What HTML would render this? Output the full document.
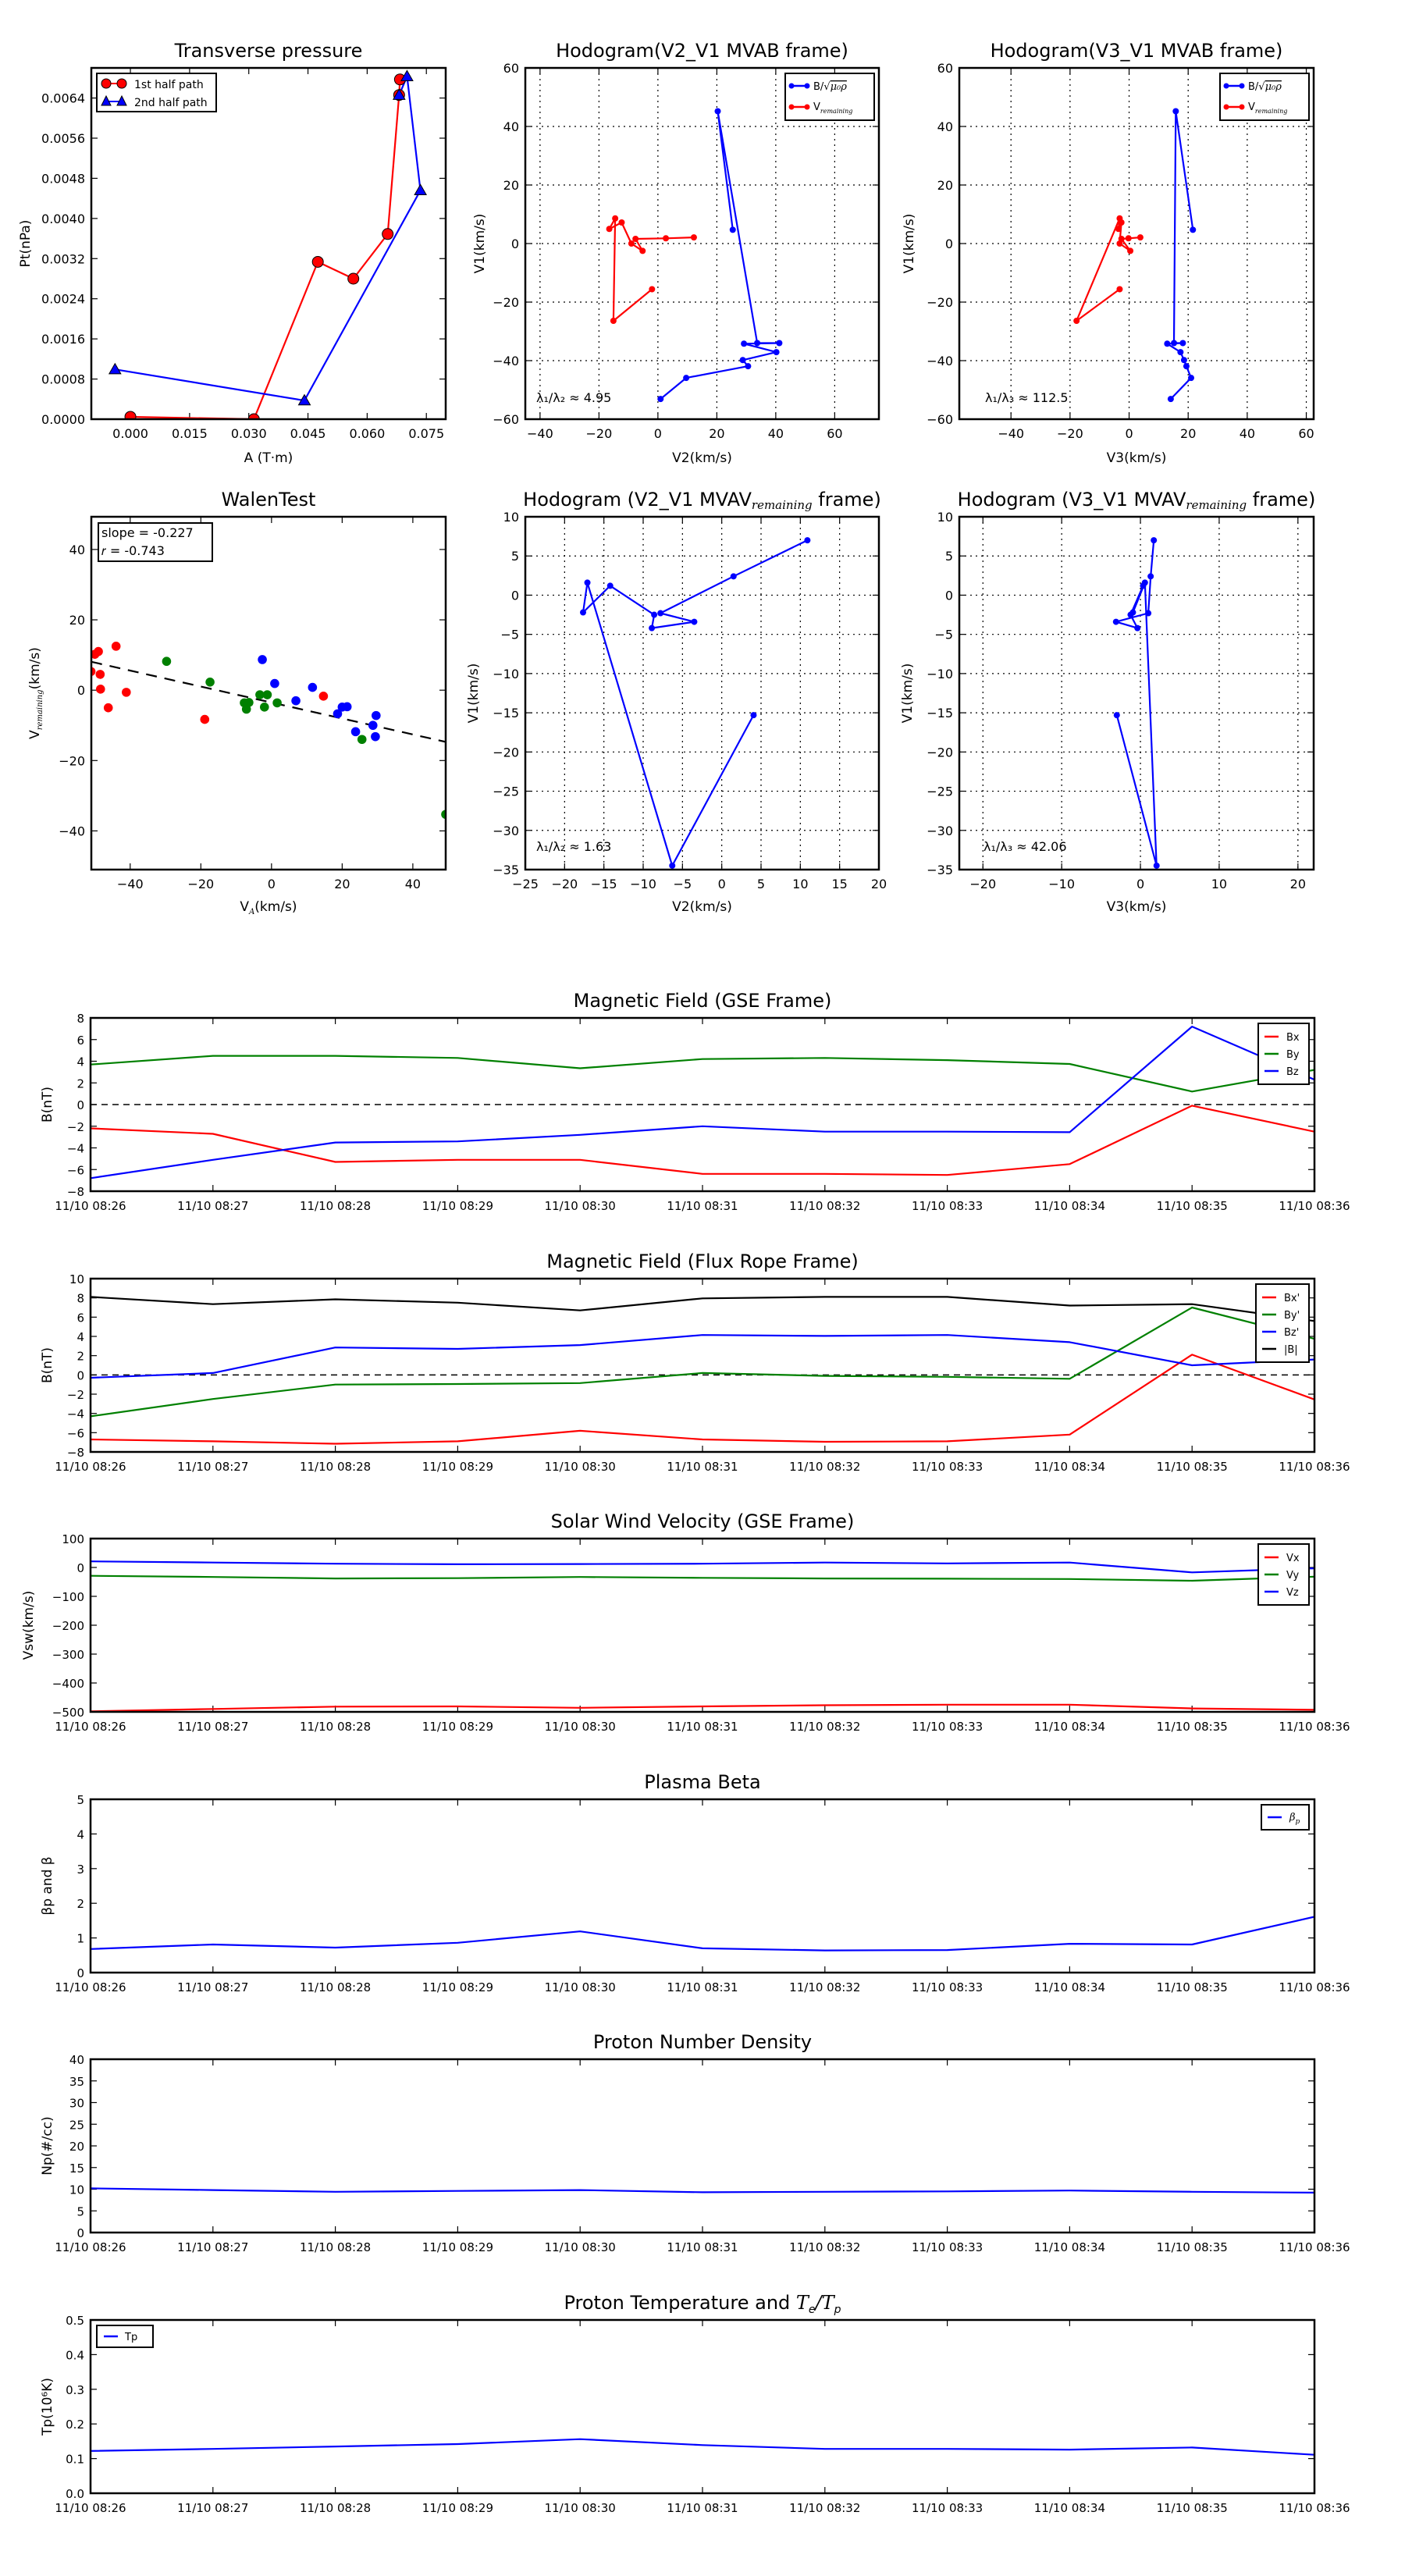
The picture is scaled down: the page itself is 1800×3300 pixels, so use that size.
<!DOCTYPE html>
<html><head><meta charset="utf-8"><title>Flux rope analysis</title>
<style>
html,body{margin:0;padding:0;background:#fff;}
svg{display:block;font-family:"DejaVu Sans","Liberation Sans",sans-serif;}
</style></head>
<body>
<svg id="fig" xmlns="http://www.w3.org/2000/svg" width="1800" height="3300" viewBox="0 0 1800 3300">
<rect x="0" y="0" width="1800" height="3300" fill="#fff"/>
</svg>
<script>
// ---------- DATA ----------
// Transverse pressure
const tpA1 = [0.0, 0.0313, 0.0475, 0.0565, 0.0652, 0.0681, 0.0683];
const tpP1 = [0.000047, 0.0, 0.003135, 0.0028, 0.00369, 0.00646, 0.00677];
const tpA2 = [0.0681, 0.0701, 0.0735, 0.0441, -0.0039];
const tpP2 = [0.00646, 0.00683, 0.00456, 0.000372, 0.000992];
// Hodogram MVAB
const hbV1 = [-53.1, -45.9, -41.9, -39.8, -37.1, -34.2, -34.0, -34.0, 45.2, 4.7];
const hbV2 = [0.9, 9.6, 30.6, 28.8, 40.2, 29.2, 41.2, 33.7, 20.3, 25.4];
const hbV3 = [14.1, 21.0, 19.4, 18.6, 17.4, 12.9, 18.2, 15.2, 15.8, 21.6];
const hvV1 = [-15.6, -26.4, 8.6, 5.0, 7.2, 0.0, -2.5, 1.6, 1.8, 2.1];
const hvV2 = [-2.0, -15.1, -14.5, -16.5, -12.3, -9.0, -5.2, -7.6, 2.7, 12.2];
const hvV3 = [-3.2, -17.8, -3.2, -3.6, -2.6, -3.2, 0.4, -2.6, -0.2, 3.8];
// Hodogram MVAV remaining
const hrV1 = [-15.3, -34.5, 1.6, -2.2, 1.2, -2.5, -4.2, -3.4, -2.3, 2.4, 7.0];
const hrV2 = [4.05, -6.3, -17.1, -17.65, -14.2, -8.6, -8.9, -3.5, -7.8, 1.5, 10.9];
const hrV3 = [-3.0, 2.05, 0.57, -0.95, 0.34, -1.25, -0.38, -3.1, 1.0, 1.3, 1.7];
// Walen test
const wRedX = [-51.1, -50, -49, -48.5, -48.4, -46.2, -44, -41.1, -18.9, 14.7];
const wRedY = [5.3, 10.2, 11, 4.5, 0.3, -5, 12.5, -0.6, -8.3, -1.7];
const wGrnX = [-29.7, -17.4, -7.7, -7.1, -6.4, -3.3, -2, -1.2, 1.6, 25.6, 49.3];
const wGrnY = [8.2, 2.3, -3.6, -5.4, -3.5, -1.3, -4.8, -1.3, -3.6, -14, -35.3];
const wBluX = [-2.6, 0.9, 6.9, 11.6, 18.7, 20, 21.4, 23.8, 28.7, 29.4, 29.6];
const wBluY = [8.7, 1.9, -3.0, 0.8, -6.7, -4.8, -4.7, -11.8, -10, -13.2, -7.2];
const wSlope = [-0.227];
const wIntercept = [-3.5];
// Time series
const times = ['11/10 08:26','11/10 08:27','11/10 08:28','11/10 08:29','11/10 08:30','11/10 08:31','11/10 08:32','11/10 08:33','11/10 08:34','11/10 08:35','11/10 08:36'];
const bx = [-2.2, -2.7, -5.3, -5.1, -5.1, -6.4, -6.4, -6.5, -5.5, -0.1, -2.5];
const by = [3.7, 4.5, 4.5, 4.3, 3.35, 4.2, 4.3, 4.1, 3.75, 1.2, 3.2];
const bz = [-6.8, -5.1, -3.5, -3.4, -2.8, -2.0, -2.5, -2.5, -2.55, 7.2, 2.3];
const bxp = [-6.7, -6.9, -7.15, -6.9, -5.8, -6.7, -6.95, -6.9, -6.2, 2.1, -2.55];
const byp = [-4.3, -2.5, -1.0, -0.95, -0.85, 0.2, -0.1, -0.2, -0.4, 7.0, 3.75];
const bzp = [-0.3, 0.2, 2.85, 2.7, 3.1, 4.15, 4.05, 4.15, 3.4, 1.0, 1.6];
const bmag = [8.1, 7.35, 7.85, 7.5, 6.7, 7.95, 8.1, 8.1, 7.2, 7.35, 5.6];
const vx = [-498, -490, -482, -481, -486, -481, -477, -475, -475, -488, -493];
const vy = [-29, -33, -38, -37, -33, -36, -38, -39, -40, -46, -32];
const vz = [21, 17, 13, 11, 12, 13, 17, 14, 17, -17, -3];
const betaP = [0.68, 0.81, 0.72, 0.86, 1.19, 0.70, 0.64, 0.65, 0.83, 0.81, 1.61];
const np = [10.2, 9.8, 9.4, 9.6, 9.8, 9.3, 9.4, 9.5, 9.7, 9.4, 9.2];
const tp = [0.122, 0.128, 0.135, 0.142, 0.156, 0.139, 0.128, 0.128, 0.126, 0.132, 0.111];

// ---------- HELPERS ----------
const NS = 'http://www.w3.org/2000/svg';
const svg = document.getElementById('fig');
let clipId = 0;
function mk(tag, attrs, name, parent) {
  const el = document.createElementNS(NS, tag);
  for (const k in attrs) el.setAttribute(k, attrs[k]);
  
  
  (parent || svg).appendChild(el);
  return el;
}
function txt(x, y, s, opts, name, parent) {
  const t = mk('text', Object.assign({x: x, y: y, 'font-size': 16, fill: '#000'}, opts || {}), name, parent);
  t.textContent = s;
  return t;
}
function fmtMinus(s) { return String(s).replace('-', '\u2212'); }

function makeAxes(c) {
  const sx = v => c.x0 + (v - c.xmin) / (c.xmax - c.xmin) * (c.x1 - c.x0);
  const sy = v => c.y1 - (v - c.ymin) / (c.ymax - c.ymin) * (c.y1 - c.y0);
  const g = mk('g', {}, c.name);
  const id = 'clip' + (clipId++);
  const cp = mk('clipPath', {id: id}, c.name + '-clip', g);
  mk('rect', {x: c.x0, y: c.y0, width: c.x1 - c.x0, height: c.y1 - c.y0}, c.name + '-clip-rect', cp);
  const fs = c.fs || 16;
  if (c.grid) {
    c.xticks.forEach(v => { if (v > c.xmin && v < c.xmax) mk('line', {x1: sx(v), x2: sx(v), y1: c.y0, y2: c.y1, stroke: '#000', 'stroke-width': 1.2, 'stroke-dasharray': '2,5'}, 'x-gridline', g); });
    c.yticks.forEach(v => { if (v > c.ymin && v < c.ymax) mk('line', {x1: c.x0, x2: c.x1, y1: sy(v), y2: sy(v), stroke: '#000', 'stroke-width': 1.2, 'stroke-dasharray': '2,5'}, 'y-gridline', g); });
  }
  c.xticks.forEach((v, i) => {
    const X = sx(v);
    mk('line', {x1: X, x2: X, y1: c.y1, y2: c.y1 - 8, stroke: '#000', 'stroke-width': 1.2}, 'x-tick', g);
    mk('line', {x1: X, x2: X, y1: c.y0, y2: c.y0 + 8, stroke: '#000', 'stroke-width': 1.2}, 'x-tick', g);
    txt(X, c.y1 + (c.xlOff || 24), c.xlabels ? c.xlabels[i] : fmtMinus(v), {'text-anchor': 'middle', 'font-size': fs}, 'x-tick-label', g);
  });
  c.yticks.forEach((v, i) => {
    const Y = sy(v);
    mk('line', {x1: c.x0, x2: c.x0 + 8, y1: Y, y2: Y, stroke: '#000', 'stroke-width': 1.2}, 'y-tick', g);
    mk('line', {x1: c.x1, x2: c.x1 - 8, y1: Y, y2: Y, stroke: '#000', 'stroke-width': 1.2}, 'y-tick', g);
    txt(c.x0 - 8, Y + 6, c.ylabels ? c.ylabels[i] : fmtMinus(v), {'text-anchor': 'end', 'font-size': fs}, 'y-tick-label', g);
  });
  const data = mk('g', {'clip-path': 'url(#' + id + ')'}, c.name + '-data', g);
  return {sx: sx, sy: sy, g: g, data: data, c: c};
}
function frame(ax) {
  const c = ax.c;
  mk('rect', {x: c.x0, y: c.y0, width: c.x1 - c.x0, height: c.y1 - c.y0, fill: 'none', stroke: '#000', 'stroke-width': 2.5}, c.name + '-frame', ax.g);
}
function line(ax, xs, ys, color, name, w) {
  const pts = xs.map((x, i) => ax.sx(x).toFixed(1) + ',' + ax.sy(ys[i]).toFixed(1)).join(' ');
  return mk('polyline', {points: pts, fill: 'none', stroke: color, 'stroke-width': w || 2.2, 'stroke-linejoin': 'round'}, name, ax.data);
}
function dots(ax, xs, ys, color, r, name, stroke) {
  xs.forEach((x, i) => {
    mk('circle', {cx: ax.sx(x), cy: ax.sy(ys[i]), r: r, fill: color, stroke: stroke || 'none', 'stroke-width': 1}, name, ax.data);
  });
}
function tris(ax, xs, ys, color, s, name) {
  xs.forEach((x, i) => {
    const X = ax.sx(x), Y = ax.sy(ys[i]);
    mk('polygon', {points: (X) + ',' + (Y - s) + ' ' + (X - s) + ',' + (Y + s * 0.75) + ' ' + (X + s) + ',' + (Y + s * 0.75), fill: color, stroke: '#000', 'stroke-width': 1}, name, ax.data);
  });
}
function title(ax, s, name) {
  const c = ax.c;
  return txt((c.x0 + c.x1) / 2, c.y0 - 14, s, {'text-anchor': 'middle', 'font-size': 24}, name, ax.g);
}
function xlabel(ax, s, y, name) {
  const c = ax.c;
  return txt((c.x0 + c.x1) / 2, y, s, {'text-anchor': 'middle', 'font-size': 17}, name, ax.g);
}
function ylabel(ax, s, x, name) {
  const c = ax.c; const cy = (c.y0 + c.y1) / 2;
  return txt(x, cy, s, {'text-anchor': 'middle', 'font-size': 17, transform: 'rotate(-90 ' + x + ' ' + cy + ')'}, name, ax.g);
}
function legendBox(x, y, w, h, name, parent) {
  return mk('rect', {x: x, y: y, width: w, height: h, fill: '#fff', stroke: '#000', 'stroke-width': 2}, name, parent);
}
function subTxt(t, main, sub, subSize) {
  const a = document.createElementNS(NS, 'tspan'); a.textContent = main; t.appendChild(a);
  const b = document.createElementNS(NS, 'tspan');
  b.setAttribute('font-size', subSize || 10); b.setAttribute('font-style', 'italic');
  b.setAttribute('font-family', 'DejaVu Serif, serif'); b.setAttribute('dy', '4');
  b.textContent = sub; t.appendChild(b);
  return t;
}

// ---------- ROW 1 ----------
const R1T = 87, R1B = 537;
const ax1 = makeAxes({name: 'transverse-pressure-plot', x0: 117, x1: 571, y0: R1T, y1: R1B, xmin: -0.0099, xmax: 0.0799, ymin: 0, ymax: 0.0070,
  xticks: [0, 0.015, 0.03, 0.045, 0.06, 0.075], xlabels: ['0.000','0.015','0.030','0.045','0.060','0.075'],
  yticks: [0, 0.0008, 0.0016, 0.0024, 0.0032, 0.004, 0.0048, 0.0056, 0.0064], ylabels: ['0.0000','0.0008','0.0016','0.0024','0.0032','0.0040','0.0048','0.0056','0.0064']});
line(ax1, tpA1, tpP1, '#f00', 'first-half-path-line');
line(ax1, tpA2, tpP2, '#00f', 'second-half-path-line');
dots(ax1, tpA1, tpP1, '#f00', 7, 'first-half-marker', '#000');
tris(ax1, tpA2, tpP2, '#00f', 7.5, 'second-half-marker');
frame(ax1);
title(ax1, 'Transverse pressure', 'transverse-pressure-title');
xlabel(ax1, 'A (T\u00b7m)', 592, 'x-axis-title');
ylabel(ax1, 'Pt(nPa)', 38, 'y-axis-title');
(function () {
  const g = mk('g', {}, 'legend', ax1.g);
  legendBox(124, 94, 153, 49, 'legend-box', g);
  mk('line', {x1: 136, x2: 156, y1: 107, y2: 107, stroke: '#f00', 'stroke-width': 2}, 'legend-line-1st', g);
  mk('circle', {cx: 136, cy: 107, r: 6, fill: '#f00', stroke: '#000'}, 'legend-marker-1st', g);
  mk('circle', {cx: 156, cy: 107, r: 6, fill: '#f00', stroke: '#000'}, 'legend-marker-1st', g);
  txt(172, 113, '1st half path', {'font-size': 14}, 'legend-entry-1st', g);
  mk('line', {x1: 136, x2: 156, y1: 130, y2: 130, stroke: '#00f', 'stroke-width': 2}, 'legend-line-2nd', g);
  mk('polygon', {points: '136,123 130,135 142,135', fill: '#00f', stroke: '#000'}, 'legend-marker-2nd', g);
  mk('polygon', {points: '156,123 150,135 162,135', fill: '#00f', stroke: '#000'}, 'legend-marker-2nd', g);
  txt(172, 136, '2nd half path', {'font-size': 14}, 'legend-entry-2nd', g);
})();

function hodoLegend(ax, x0, name) {
  const g = mk('g', {}, name, ax.g);
  legendBox(x0, 94, 114, 60, name + '-box', g);
  mk('line', {x1: x0 + 8, x2: x0 + 28, y1: 110, y2: 110, stroke: '#00f', 'stroke-width': 2.5}, 'legend-line-b', g);
  mk('circle', {cx: x0 + 8, cy: 110, r: 3.5, fill: '#00f'}, 'legend-marker-b', g);
  mk('circle', {cx: x0 + 28, cy: 110, r: 3.5, fill: '#00f'}, 'legend-marker-b', g);
  const t = txt(x0 + 36, 115, 'B/\u221a', {'font-size': 13}, 'legend-entry-b', g);
  const s = document.createElementNS(NS, 'tspan');
  s.setAttribute('text-decoration', 'overline'); s.setAttribute('font-style', 'italic');
  s.setAttribute('font-family', 'DejaVu Serif, serif');
  s.textContent = '\u03bc\u2080\u03c1'; t.appendChild(s);
  mk('line', {x1: x0 + 8, x2: x0 + 28, y1: 137, y2: 137, stroke: '#f00', 'stroke-width': 2.5}, 'legend-line-v', g);
  mk('circle', {cx: x0 + 8, cy: 137, r: 3.5, fill: '#f00'}, 'legend-marker-v', g);
  mk('circle', {cx: x0 + 28, cy: 137, r: 3.5, fill: '#f00'}, 'legend-marker-v', g);
  subTxt(txt(x0 + 36, 141, '', {'font-size': 13}, 'legend-entry-v', g), 'V', 'remaining', 8);
}
const ax2 = makeAxes({name: 'hodogram-v2-v1-mvab', x0: 673, x1: 1126, y0: R1T, y1: R1B, xmin: -45, xmax: 75, ymin: -60, ymax: 60,
  xticks: [-40, -20, 0, 20, 40, 60], yticks: [-60, -40, -20, 0, 20, 40, 60], grid: true});
line(ax2, hbV2, hbV1, '#00f', 'b-hodogram-line');
dots(ax2, hbV2, hbV1, '#00f', 4, 'b-hodogram-point');
line(ax2, hvV2, hvV1, '#f00', 'v-hodogram-line');
dots(ax2, hvV2, hvV1, '#f00', 4, 'v-hodogram-point');
frame(ax2);
title(ax2, 'Hodogram(V2_V1 MVAB frame)', 'hodogram-v2-title');
xlabel(ax2, 'V2(km/s)', 592, 'x-axis-title');
ylabel(ax2, 'V1(km/s)', 620, 'y-axis-title');
hodoLegend(ax2, 1006, 'legend');
txt(687, 515, '\u03bb\u2081/\u03bb\u2082 \u2248 4.95', {'font-size': 16}, 'eigen-ratio-annotation', ax2.g);

const ax3 = makeAxes({name: 'hodogram-v3-v1-mvab', x0: 1229, x1: 1683, y0: R1T, y1: R1B, xmin: -57.5, xmax: 62.5, ymin: -60, ymax: 60,
  xticks: [-40, -20, 0, 20, 40, 60], yticks: [-60, -40, -20, 0, 20, 40, 60], grid: true});
line(ax3, hbV3, hbV1, '#00f', 'b-hodogram-line');
dots(ax3, hbV3, hbV1, '#00f', 4, 'b-hodogram-point');
line(ax3, hvV3, hvV1, '#f00', 'v-hodogram-line');
dots(ax3, hvV3, hvV1, '#f00', 4, 'v-hodogram-point');
frame(ax3);
title(ax3, 'Hodogram(V3_V1 MVAB frame)', 'hodogram-v3-title');
xlabel(ax3, 'V3(km/s)', 592, 'x-axis-title');
ylabel(ax3, 'V1(km/s)', 1170, 'y-axis-title');
hodoLegend(ax3, 1563, 'legend');
txt(1262, 515, '\u03bb\u2081/\u03bb\u2083 \u2248 112.5', {'font-size': 16}, 'eigen-ratio-annotation', ax3.g);

// ---------- ROW 2 ----------
const R2T = 662, R2B = 1114;
const ax4 = makeAxes({name: 'walen-test-plot', x0: 117, x1: 571, y0: R2T, y1: R2B, xmin: -51, xmax: 49.3, ymin: -51, ymax: 49.3,
  xticks: [-40, -20, 0, 20, 40], yticks: [-40, -20, 0, 20, 40]});
line(ax4, [-51, 49.3], [-51, 49.3].map(x => wIntercept[0] + wSlope[0] * x), '#000', 'regression-line').setAttribute('stroke-dasharray', '14,10');
dots(ax4, wRedX, wRedY, '#f00', 5.8, 'walen-point-red');
dots(ax4, wGrnX, wGrnY, '#008000', 5.8, 'walen-point-green');
dots(ax4, wBluX, wBluY, '#00f', 5.8, 'walen-point-blue');
frame(ax4);
title(ax4, 'WalenTest', 'walen-test-title');
(function () {
  const xl = subTxt(xlabel(ax4, '', 1167, 'x-axis-title'), 'V', 'A', 10);
  const u = document.createElementNS(NS, 'tspan'); u.setAttribute('dy', '-4'); u.textContent = '(km/s)'; xl.appendChild(u);
  const cx = 50, cy = (R2T + R2B) / 2;
  const t = txt(cx, cy, '', {'text-anchor': 'middle', 'font-size': 17, transform: 'rotate(-90 ' + cx + ' ' + cy + ')'}, 'y-axis-title', ax4.g);
  subTxt(t, 'V', 'remaining', 10);
  const s = document.createElementNS(NS, 'tspan'); s.setAttribute('dy', '-4'); s.textContent = '(km/s)'; t.appendChild(s);
  legendBox(126, 670, 146, 49, 'stats-box', ax4.g);
  txt(130, 688, 'slope = -0.227', {'font-size': 16}, 'slope-annotation', ax4.g);
  txt(130, 711, '\ud835\udc5f = -0.743', {'font-size': 16}, 'correlation-annotation', ax4.g);
})();

const ax5 = makeAxes({name: 'hodogram-v2-v1-mvav', x0: 673, x1: 1126, y0: R2T, y1: R2B, xmin: -25, xmax: 20, ymin: -35, ymax: 10,
  xticks: [-25, -20, -15, -10, -5, 0, 5, 10, 15, 20], yticks: [-35, -30, -25, -20, -15, -10, -5, 0, 5, 10], grid: true});
line(ax5, hrV2, hrV1, '#00f', 'v-hodogram-line');
dots(ax5, hrV2, hrV1, '#00f', 4, 'v-hodogram-point');
frame(ax5);
(function () {
  const t = title(ax5, '', 'hodogram-v2-mvav-title');
  subTxt(t, 'Hodogram (V2_V1 MVAV', 'remaining', 15);
  const s = document.createElementNS(NS, 'tspan'); s.setAttribute('dy', '-4'); s.textContent = ' frame)'; t.appendChild(s);
})();
xlabel(ax5, 'V2(km/s)', 1167, 'x-axis-title');
ylabel(ax5, 'V1(km/s)', 612, 'y-axis-title');
txt(687, 1090, '\u03bb\u2081/\u03bb\u2082 \u2248 1.63', {'font-size': 16}, 'eigen-ratio-annotation', ax5.g);

const ax6 = makeAxes({name: 'hodogram-v3-v1-mvav', x0: 1229, x1: 1683, y0: R2T, y1: R2B, xmin: -23, xmax: 22, ymin: -35, ymax: 10,
  xticks: [-20, -10, 0, 10, 20], yticks: [-35, -30, -25, -20, -15, -10, -5, 0, 5, 10], grid: true});
line(ax6, hrV3, hrV1, '#00f', 'v-hodogram-line');
dots(ax6, hrV3, hrV1, '#00f', 4, 'v-hodogram-point');
frame(ax6);
(function () {
  const t = title(ax6, '', 'hodogram-v3-mvav-title');
  subTxt(t, 'Hodogram (V3_V1 MVAV', 'remaining', 15);
  const s = document.createElementNS(NS, 'tspan'); s.setAttribute('dy', '-4'); s.textContent = ' frame)'; t.appendChild(s);
})();
xlabel(ax6, 'V3(km/s)', 1167, 'x-axis-title');
ylabel(ax6, 'V1(km/s)', 1168, 'y-axis-title');
txt(1260, 1090, '\u03bb\u2081/\u03bb\u2083 \u2248 42.06', {'font-size': 16}, 'eigen-ratio-annotation', ax6.g);

// ---------- TIME SERIES ----------
const tIdx = times.map((t, i) => i);
const TSL = 116, TSR = 1684, TSH = 222;
function tsAxes(name, y0, ymin, ymax, yticks, ylabels) {
  return makeAxes({name: name, x0: TSL, x1: TSR, y0: y0, y1: y0 + TSH, xmin: 0, xmax: 10, ymin: ymin, ymax: ymax,
    xticks: tIdx, xlabels: times, yticks: yticks, ylabels: ylabels, fs: 15, xlOff: 24});
}
function tsLegend(ax, x, y, w, items, name) {
  const g = mk('g', {}, name, ax.g);
  legendBox(x, y, w, 12 + items.length * 22, name + '-box', g);
  items.forEach((it, i) => {
    const yy = y + 17 + i * 22;
    mk('line', {x1: x + 8, x2: x + 26, y1: yy, y2: yy, stroke: it[1], 'stroke-width': 2.5}, 'legend-line', g);
    txt(x + 36, yy + 5, it[0], {'font-size': 13}, 'legend-entry', g);
  });
}
function zeroLine(ax) {
  mk('line', {x1: TSL, x2: TSR, y1: ax.sy(0), y2: ax.sy(0), stroke: '#000', 'stroke-width': 1.5, 'stroke-dasharray': '8,6'}, 'zero-reference-line', ax.data);
}
const LX = TSR - 72;
// Panel 1
const p1 = tsAxes('magnetic-field-gse-panel', 1304, -8, 8, [-8, -6, -4, -2, 0, 2, 4, 6, 8]);
zeroLine(p1);
line(p1, tIdx, bx, '#f00', 'bx-line');
line(p1, tIdx, by, '#008000', 'by-line');
line(p1, tIdx, bz, '#00f', 'bz-line');
tsLegend(p1, LX, 1311, 65, [['Bx', '#f00'], ['By', '#008000'], ['Bz', '#00f']], 'legend');
frame(p1);
title(p1, 'Magnetic Field (GSE Frame)', 'magnetic-field-gse-title');
ylabel(p1, 'B(nT)', 66, 'y-axis-title');
// Panel 2
const p2 = tsAxes('magnetic-field-flux-rope-panel', 1638, -8, 10, [-8, -6, -4, -2, 0, 2, 4, 6, 8, 10]);
zeroLine(p2);
line(p2, tIdx, bxp, '#f00', 'bx-prime-line');
line(p2, tIdx, byp, '#008000', 'by-prime-line');
line(p2, tIdx, bzp, '#00f', 'bz-prime-line');
line(p2, tIdx, bmag, '#000', 'b-magnitude-line');
tsLegend(p2, LX - 3, 1645, 68, [["Bx'", '#f00'], ["By'", '#008000'], ["Bz'", '#00f'], ['|B|', '#000']], 'legend');
frame(p2);
title(p2, 'Magnetic Field (Flux Rope Frame)', 'magnetic-field-flux-rope-title');
ylabel(p2, 'B(nT)', 66, 'y-axis-title');
// Panel 3
const p3 = tsAxes('solar-wind-velocity-panel', 1971, -500, 100, [-500, -400, -300, -200, -100, 0, 100]);
line(p3, tIdx, vx, '#f00', 'vx-line');
line(p3, tIdx, vy, '#008000', 'vy-line');
line(p3, tIdx, vz, '#00f', 'vz-line');
tsLegend(p3, LX, 1978, 65, [['Vx', '#f00'], ['Vy', '#008000'], ['Vz', '#00f']], 'legend');
frame(p3);
title(p3, 'Solar Wind Velocity (GSE Frame)', 'solar-wind-velocity-title');
ylabel(p3, 'Vsw(km/s)', 42, 'y-axis-title');
// Panel 4
const p4 = tsAxes('plasma-beta-panel', 2305, 0, 5, [0, 1, 2, 3, 4, 5]);
line(p4, tIdx, betaP, '#00f', 'beta-p-line');
(function () {
  const g = mk('g', {}, 'legend', p4.g);
  legendBox(LX + 4, 2312, 61, 32, 'legend-box', g);
  mk('line', {x1: LX + 12, x2: LX + 30, y1: 2328, y2: 2328, stroke: '#00f', 'stroke-width': 2.5}, 'legend-line', g);
  subTxt(txt(LX + 40, 2332, '', {'font-size': 13, 'font-style': 'italic', 'font-family': 'DejaVu Serif, serif'}, 'legend-entry', g), '\u03b2', 'p', 9);
})();
frame(p4);
title(p4, 'Plasma Beta', 'plasma-beta-title');
ylabel(p4, '\u03b2p and \u03b2', 66, 'y-axis-title');
// Panel 5
const p5 = tsAxes('proton-density-panel', 2638, 0, 40, [0, 5, 10, 15, 20, 25, 30, 35, 40]);
line(p5, tIdx, np, '#00f', 'np-line');
frame(p5);
title(p5, 'Proton Number Density', 'proton-density-title');
ylabel(p5, 'Np(#/cc)', 66, 'y-axis-title');
// Panel 6
const p6 = tsAxes('proton-temperature-panel', 2972, 0, 0.5, [0, 0.1, 0.2, 0.3, 0.4, 0.5], ['0.0', '0.1', '0.2', '0.3', '0.4', '0.5']);
line(p6, tIdx, tp, '#00f', 'tp-line');
(function () {
  const g = mk('g', {}, 'legend', p6.g);
  legendBox(124, 2979, 72, 28, 'legend-box', g);
  mk('line', {x1: 133, x2: 151, y1: 2993, y2: 2993, stroke: '#00f', 'stroke-width': 2.5}, 'legend-line', g);
  txt(160, 2998, 'Tp', {'font-size': 13}, 'legend-entry', g);
})();
frame(p6);
(function () {
  const t = title(p6, 'Proton Temperature and ', 'proton-temperature-title');
  const a = document.createElementNS(NS, 'tspan');
  a.setAttribute('font-style', 'italic'); a.setAttribute('font-family', 'DejaVu Serif, serif');
  a.textContent = 'T'; t.appendChild(a);
  const b = document.createElementNS(NS, 'tspan'); b.setAttribute('font-size', 14); b.setAttribute('dy', 5); b.setAttribute('font-style', 'italic'); b.textContent = 'e'; t.appendChild(b);
  const c = document.createElementNS(NS, 'tspan'); c.setAttribute('dy', -5); c.setAttribute('font-style', 'italic'); c.setAttribute('font-family', 'DejaVu Serif, serif'); c.textContent = '/T'; t.appendChild(c);
  const d = document.createElementNS(NS, 'tspan'); d.setAttribute('font-size', 14); d.setAttribute('dy', 5); d.setAttribute('font-style', 'italic'); d.textContent = 'p'; t.appendChild(d);
})();
ylabel(p6, 'Tp(10\u2076K)', 66, 'y-axis-title');
</script>
</body></html>
